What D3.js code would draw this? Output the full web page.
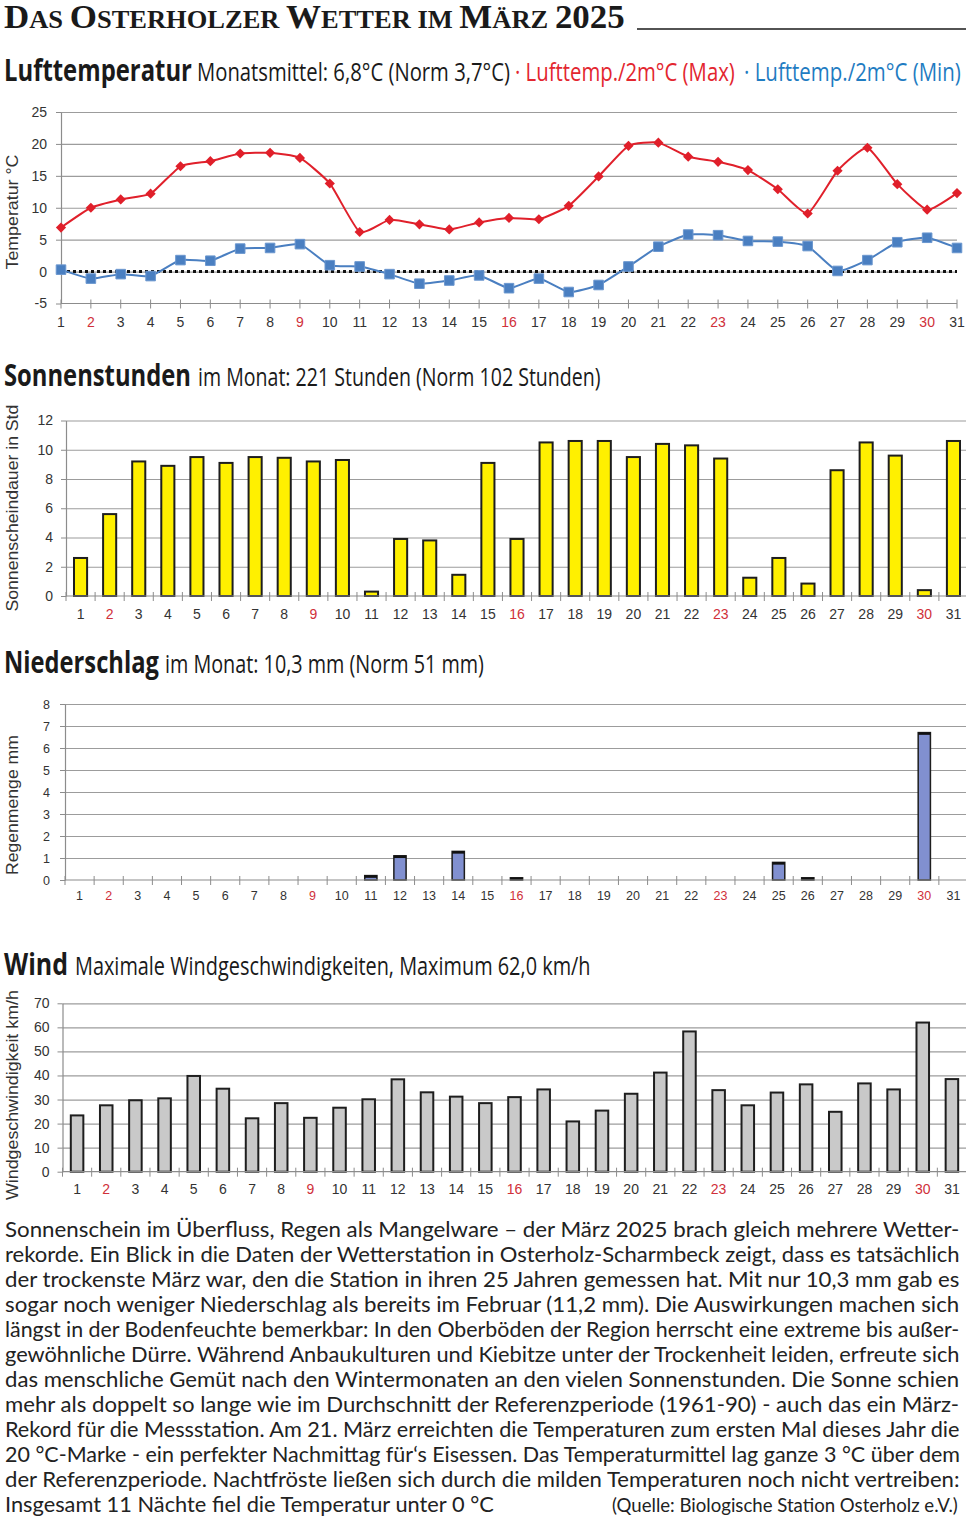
<!DOCTYPE html>
<html>
<head>
<meta charset="utf-8">
<script src="https://cdn.jsdelivr.net/npm/d3@7"></script>
<style>
  body { margin: 0; background: #fff; }
  svg { display: block; }
</style>
</head>
<body>
<div id="chart"></div>
<script>
// Data
const days = d3.range(1, 32);
const sundays = [2, 9, 16, 23, 30];

const tempMax = [6.9, 10.0, 11.3, 12.2, 16.5, 17.3, 18.5, 18.6, 17.8, 13.8, 6.2, 8.1, 7.4, 6.6, 7.7,
                 8.4, 8.2, 10.3, 14.9, 19.7, 20.2, 18.0, 17.2, 15.9, 12.9, 9.1, 15.8, 19.4, 13.7, 9.7, 12.3];
const tempMin = [0.3, -1.1, -0.4, -0.7, 1.8, 1.7, 3.6, 3.7, 4.3, 1.0, 0.8, -0.4, -1.9, -1.4, -0.6,
                 -2.6, -1.1, -3.2, -2.1, 0.8, 3.9, 5.8, 5.7, 4.8, 4.7, 4.0, 0.1, 1.8, 4.6, 5.3, 3.7];
const sunHours = [2.6, 5.6, 9.2, 8.9, 9.5, 9.1, 9.5, 9.45, 9.2, 9.3, 0.3, 3.9, 3.8, 1.45, 9.1,
                  3.9, 10.5, 10.6, 10.6, 9.5, 10.4, 10.3, 9.4, 1.25, 2.6, 0.85, 8.6, 10.5, 9.6, 0.4, 10.6];
const rain = [0, 0, 0, 0, 0, 0, 0, 0, 0, 0, 0.2, 1.1, 0, 1.3, 0,
              0.1, 0, 0, 0, 0, 0, 0, 0, 0, 0.8, 0.1, 0, 0, 0, 6.7, 0];
const windMax = [23.4, 27.6, 29.7, 30.5, 39.8, 34.5, 22.2, 28.5, 22.4, 26.6, 30.1, 38.4, 33.0, 31.2, 28.5,
                 31.0, 34.2, 20.9, 25.4, 32.4, 41.2, 58.3, 33.9, 27.6, 32.9, 36.3, 24.9, 36.7, 34.2, 62.0, 38.5];

const tempTicks = [-5, 0, 5, 10, 15, 20, 25];
const sunTicks = [0, 2, 4, 6, 8, 10, 12];
const rainTicks = [0, 1, 2, 3, 4, 5, 6, 7, 8];
const windTicks = [0, 10, 20, 30, 40, 50, 60, 70];

const titleText = "Das Osterholzer Wetter im März 2025";
const bodyLines = [
  "Sonnenschein im Überfluss, Regen als Mangelware – der März 2025 brach gleich mehrere Wetter-",
  "rekorde. Ein Blick in die Daten der Wetterstation in Osterholz-Scharmbeck zeigt, dass es tatsächlich",
  "der trockenste März war, den die Station in ihren 25 Jahren gemessen hat. Mit nur 10,3 mm gab es",
  "sogar noch weniger Niederschlag als bereits im Februar (11,2 mm). Die Auswirkungen machen sich",
  "längst in der Bodenfeuchte bemerkbar: In den Oberböden der Region herrscht eine extreme bis außer-",
  "gewöhnliche Dürre. Während Anbaukulturen und Kiebitze unter der Trockenheit leiden, erfreute sich",
  "das menschliche Gemüt nach den Wintermonaten an den vielen Sonnenstunden. Die Sonne schien",
  "mehr als doppelt so lange wie im Durchschnitt der Referenzperiode (1961-90) - auch das ein März-",
  "Rekord für die Messstation. Am 21. März erreichten die Temperaturen zum ersten Mal dieses Jahr die",
  "20 °C-Marke - ein perfekter Nachmittag für‘s Eisessen. Das Temperaturmittel lag ganze 3 °C über dem",
  "der Referenzperiode. Nachtfröste ließen sich durch die milden Temperaturen noch nicht vertreiben:"
];
const lastLine = "Insgesamt 11 Nächte fiel die Temperatur unter 0 °C";
const sourceText = "(Quelle: Biologische Station Osterholz e.V.)";

// Fonts and colours
const axisFont = "'Liberation Sans', Arial, sans-serif";
const headFont = "'Open Sans', 'Noto Sans', sans-serif";
const bodyFont = "Lato, 'Open Sans', sans-serif";
const serifFont = "'Liberation Serif', 'DejaVu Serif', serif";
const dayColor = d => sundays.includes(d) ? "#d0303a" : "#333";

const svg = d3.select("#chart")
  .append("svg")
  .attr("width", 966)
  .attr("height", 1517)
  .style("background", "#fff");

// squeeze a text horizontally so it spans exactly `width` pixels from (x, y)
function fit(text, x, y, width) {
  const w = text.node().getComputedTextLength();
  text.attr("x", 0).attr("y", 0)
    .attr("transform", `translate(${x},${y}) scale(${width / w},1)`);
  return text;
}

// ---------- Title in small caps ----------
const title = svg.append("text")
  .attr("font-family", serifFont)
  .attr("font-weight", "bold")
  .attr("fill", "#1a1a1a");

// group characters in runs of big (upper case / digits) and small (lower case) letters
let runs = [];
for (const ch of titleText) {
  const big = ch !== ch.toLowerCase() || /[0-9]/.test(ch);
  const last = runs[runs.length - 1];
  if (last && last.big === big) last.text += ch;
  else runs.push({ big: big, text: ch });
}
runs.forEach(r => {
  title.append("tspan")
    .attr("font-size", r.big ? 33 : 25)
    .text(r.text.toUpperCase());
});
fit(title, 4, 28, 621);

svg.append("line")
  .attr("x1", 637).attr("x2", 966)
  .attr("y1", 29).attr("y2", 29)
  .attr("stroke", "#1a1a1a")
  .attr("stroke-width", 1.5);

// ---------- Section headings ----------
function heading(parts) {
  parts.forEach(p => {
    const t = svg.append("text")
      .attr("font-family", headFont)
      .attr("font-weight", p.bold ? "bold" : "normal")
      .attr("font-size", p.bold ? 31 : 25)
      .attr("fill", p.color || "#1a1a1a")
      .text(p.text);
    fit(t, p.x, p.y, p.w);
  });
}

heading([
  { text: "Lufttemperatur", x: 4, y: 81, w: 188, bold: true },
  { text: "Monatsmittel: 6,8°C (Norm 3,7°C)", x: 197, y: 81, w: 313 },
  { text: "· Lufttemp./2m°C (Max)", x: 515, y: 81, w: 220, color: "#e3262f" },
  { text: "· Lufttemp./2m°C (Min)", x: 744, y: 81, w: 217, color: "#1f7cc2" }
]);
heading([
  { text: "Sonnenstunden", x: 4, y: 386, w: 187, bold: true },
  { text: "im Monat: 221 Stunden (Norm 102 Stunden)", x: 198, y: 386, w: 403 }
]);
heading([
  { text: "Niederschlag", x: 4, y: 673, w: 155, bold: true },
  { text: "im Monat: 10,3 mm (Norm 51 mm)", x: 165, y: 673, w: 319 }
]);
heading([
  { text: "Wind", x: 4, y: 975, w: 64, bold: true },
  { text: "Maximale Windgeschwindigkeiten, Maximum 62,0 km/h", x: 75, y: 975, w: 516 }
]);

// ---------- Shared axis helpers ----------
function yGrid(y, ticks, x0, x1) {
  svg.append("g")
    .attr("transform", `translate(${x0},0)`)
    .call(d3.axisLeft(y).tickValues(ticks).tickSize(-(x1 - x0)).tickFormat(""))
    .call(a => a.select(".domain").remove())
    .selectAll("line")
      .attr("stroke", "#9c9c9c")
      .attr("stroke-width", 1.2);
}

function yAxis(y, ticks, x0, pad, size, font) {
  const g = svg.append("g")
    .attr("transform", `translate(${x0},0)`)
    .call(d3.axisLeft(y).tickValues(ticks).tickSize(5).tickSizeOuter(0).tickPadding(pad)
      .tickFormat(d => String(d)));
  g.attr("font-size", size).attr("font-family", font);
  g.select(".domain").attr("stroke", "#8c8c8c").attr("stroke-width", 1.2);
  g.selectAll(".tick line").attr("stroke", "#8c8c8c");
  g.selectAll("text").attr("fill", "#333");
}

function yTitle(text, cy, len) {
  const t = svg.append("text")
    .attr("text-anchor", "start")
    .attr("font-family", axisFont)
    .attr("font-size", 16)
    .attr("fill", "#333")
    .text(text);
  const w = t.node().getComputedTextLength();
  t.attr("transform", `translate(18,${cy + len / 2}) rotate(-90) scale(${len / w},1)`);
}

function dayLabels(cx, baseY, size, font) {
  svg.append("g")
    .selectAll("text")
    .data(days)
    .join("text")
      .attr("x", d => cx(d))
      .attr("y", baseY)
      .attr("text-anchor", "middle")
      .attr("font-family", font)
      .attr("font-size", size)
      .attr("fill", dayColor)
      .text(d => d);
}

// x axis line at zero with short ticks between the day bands
function bandAxis(x, y0) {
  const edges = days.map(d => x(d) - x.step() * x.paddingInner() / 2).concat([x.range()[1]]);
  svg.append("line")
    .attr("x1", x.range()[0]).attr("x2", x.range()[1])
    .attr("y1", y0).attr("y2", y0)
    .attr("stroke", "#8c8c8c")
    .attr("stroke-width", 1.2);
  svg.append("g")
    .selectAll("line")
    .data(edges)
    .join("line")
      .attr("x1", d => d).attr("x2", d => d)
      .attr("y1", y0 - 4).attr("y2", y0 + 5)
      .attr("stroke", "#8c8c8c");
}

function bars(x, y, values, fill, bw) {
  svg.append("g")
    .selectAll("rect")
    .data(days.filter((d, i) => values[i] > 0))
    .join("rect")
      .attr("x", d => x(d))
      .attr("width", x.bandwidth())
      .attr("y", d => y(values[d - 1]))
      .attr("height", d => y(0) - y(values[d - 1]))
      .attr("fill", fill)
      .attr("stroke", "#1e1e1e")
      .attr("stroke-width", bw);
}

// ---------- Lufttemperatur ----------
const tX = d3.scalePoint().domain(days).range([61, 957]);
const tY = d3.scaleLinear().domain([-5, 25]).range([303.5, 112]);

yGrid(tY, tempTicks.filter(t => t > -5), 61, 957);
yAxis(tY, tempTicks, 61, 9, 14, axisFont);
yTitle("Temperatur °C", 212, 115);

// bottom axis at -5 with ticks through the line
svg.append("line")
  .attr("x1", 61).attr("x2", 957)
  .attr("y1", tY(-5)).attr("y2", tY(-5))
  .attr("stroke", "#8c8c8c").attr("stroke-width", 1.2);
svg.append("g")
  .selectAll("line")
  .data(days)
  .join("line")
    .attr("x1", d => tX(d)).attr("x2", d => tX(d))
    .attr("y1", tY(-5) - 4).attr("y2", tY(-5) + 5)
    .attr("stroke", "#8c8c8c");
dayLabels(d => tX(d), 327, 14, axisFont);

// dotted freezing line
svg.append("line")
  .attr("x1", 61).attr("x2", 957)
  .attr("y1", tY(0)).attr("y2", tY(0))
  .attr("stroke", "#111")
  .attr("stroke-width", 3)
  .attr("stroke-dasharray", "3,3");

const tLine = d3.line()
  .x((d, i) => tX(days[i]))
  .y(d => tY(d))
  .curve(d3.curveCardinal.tension(0.5));

svg.append("path")
  .datum(tempMax)
  .attr("d", tLine)
  .attr("fill", "none")
  .attr("stroke", "#e0202b")
  .attr("stroke-width", 2);

svg.append("path")
  .datum(tempMin)
  .attr("d", tLine)
  .attr("fill", "none")
  .attr("stroke", "#4a7fc1")
  .attr("stroke-width", 2);

const diamond = d3.symbol(d3.symbolSquare, 52)();
const square = d3.symbol(d3.symbolSquare, 92)();

svg.append("g")
  .selectAll("path")
  .data(tempMax)
  .join("path")
    .attr("d", diamond)
    .attr("transform", (d, i) => `translate(${tX(days[i])},${tY(d)}) rotate(45)`)
    .attr("fill", "#e01f2a");

svg.append("g")
  .selectAll("path")
  .data(tempMin)
  .join("path")
    .attr("d", square)
    .attr("transform", (d, i) => `translate(${tX(days[i])},${tY(d)})`)
    .attr("fill", "#4a7fc1")
    .attr("stroke", "#6b97cf")
    .attr("stroke-width", 1);

// ---------- Sonnenstunden ----------
const sX = d3.scaleBand().domain(days).range([66, 968]).paddingInner(0.55).paddingOuter(0.275);
const sY = d3.scaleLinear().domain([0, 12]).range([596, 420.5]);

yGrid(sY, sunTicks.filter(t => t > 0), 66, 968);
yAxis(sY, sunTicks, 66, 8, 14, axisFont);
yTitle("Sonnenscheindauer in Std", 508, 207);
bars(sX, sY, sunHours, "#fff000", 2);
bandAxis(sX, sY(0));
dayLabels(d => sX(d) + sX.bandwidth() / 2, 619, 14, axisFont);

// ---------- Niederschlag ----------
const rX = d3.scaleBand().domain(days).range([65, 968]).paddingInner(0.58).paddingOuter(0.29);
const rY = d3.scaleLinear().domain([0, 8]).range([880, 704]);

yGrid(rY, rainTicks.filter(t => t > 0), 65, 968);
yAxis(rY, rainTicks, 65, 10, 12.5, axisFont);
yTitle("Regenmenge mm", 805, 140);
bars(rX, rY, rain, "#8190d0", 1.5);
// dark caps on top of the rain bars
svg.append("g")
  .selectAll("line")
  .data(days.filter((d, i) => rain[i] > 0))
  .join("line")
    .attr("x1", d => rX(d)).attr("x2", d => rX(d) + rX.bandwidth())
    .attr("y1", d => rY(rain[d - 1]) + 1).attr("y2", d => rY(rain[d - 1]) + 1)
    .attr("stroke", "#111")
    .attr("stroke-width", 2.5);
bandAxis(rX, rY(0));
dayLabels(d => rX(d) + rX.bandwidth() / 2, 900, 12.5, axisFont);

// ---------- Wind ----------
const wX = d3.scaleBand().domain(days).range([62.5, 966.5]).paddingInner(0.57).paddingOuter(0.285);
const wY = d3.scaleLinear().domain([0, 70]).range([1171.7, 1003.3]);

yGrid(wY, windTicks.filter(t => t > 0), 62.5, 966.5);
yAxis(wY, windTicks, 62.5, 8, 14, axisFont);
yTitle("Windgeschwindigkeit km/h", 1095, 210);
bars(wX, wY, windMax, "#c9c9c9", 2);
bandAxis(wX, wY(0));
dayLabels(d => wX(d) + wX.bandwidth() / 2, 1194, 14, axisFont);

// ---------- Body text, justified ----------
const body = svg.append("g")
  .attr("font-family", bodyFont)
  .attr("font-size", 20.5)
  .attr("fill", "#222");

bodyLines.forEach((line, i) => {
  fit(body.append("text").text(line), 5, 1237 + i * 25, 955);
});

fit(body.append("text").text(lastLine), 5, 1237 + 11 * 25, 489);
fit(body.append("text").attr("font-size", 19.5).text(sourceText), 612, 1237 + 11 * 25, 346);
</script>
</body>
</html>
